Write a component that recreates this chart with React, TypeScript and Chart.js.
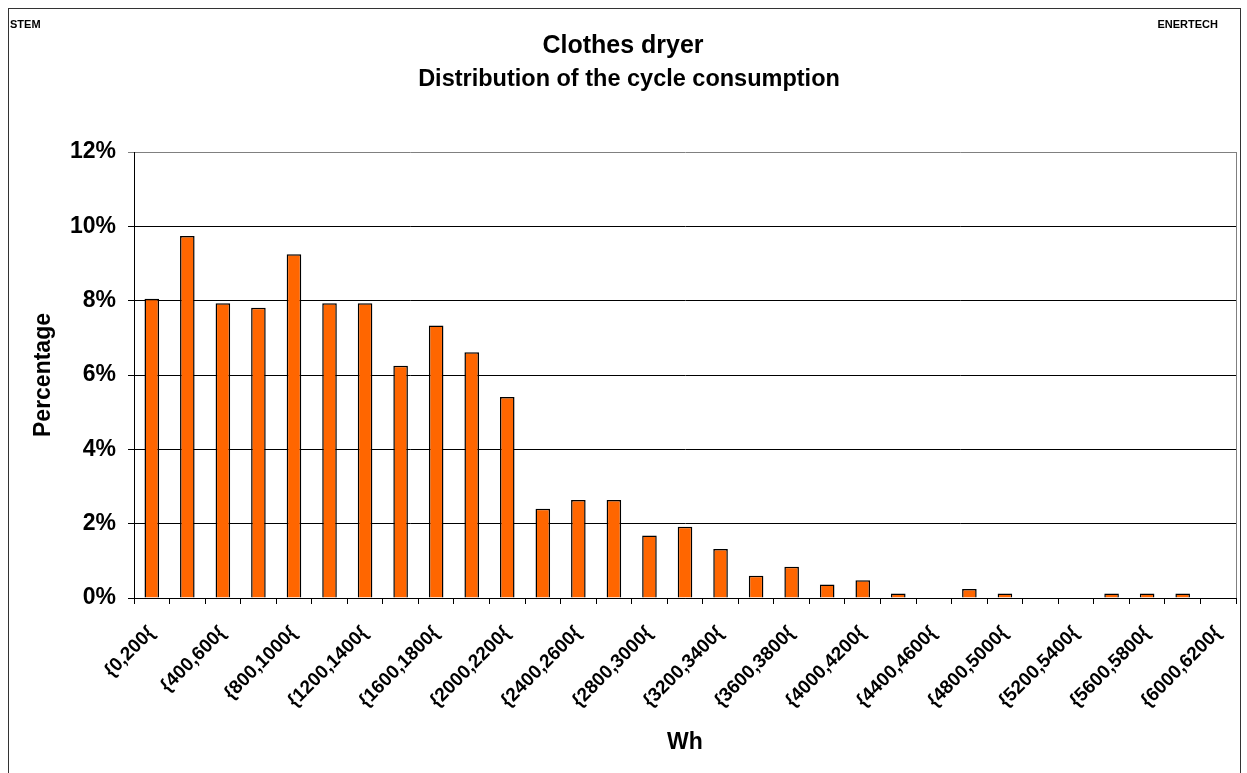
import React, { useEffect, useRef } from 'react';
import { Chart, registerables } from 'chart.js';

Chart.register(...registerables);

const categories = [
  '{0,200{', '{200,400{', '{400,600{', '{600,800{', '{800,1000{', '{1000,1200{',
  '{1200,1400{', '{1400,1600{', '{1600,1800{', '{1800,2000{', '{2000,2200{', '{2200,2400{',
  '{2400,2600{', '{2600,2800{', '{2800,3000{', '{3000,3200{', '{3200,3400{', '{3400,3600{',
  '{3600,3800{', '{3800,4000{', '{4000,4200{', '{4200,4400{', '{4400,4600{', '{4600,4800{',
  '{4800,5000{', '{5000,5200{', '{5200,5400{', '{5400,5600{', '{5600,5800{', '{5800,6000{',
  '{6000,6200{',
];

const percentages = [
  8.05, 9.74, 7.93, 7.81, 9.25, 7.93, 7.93, 6.25, 7.33, 6.61, 5.41,
  2.40, 2.64, 2.64, 1.68, 1.92, 1.32, 0.60, 0.84, 0.36, 0.48,
  0.12, 0, 0.24, 0.12, 0, 0, 0.12, 0.12, 0.12, 0,
];

const yTickValues = [0, 2, 4, 6, 8, 10, 12];

const titleText = 'Clothes dryer';
const subtitleText = 'Distribution of the cycle consumption';
const leftCornerText = 'STEM';
const rightCornerText = 'ENERTECH';
const xAxisTitle = 'Wh';
const yAxisTitle = 'Percentage';

const FONT = '"Liberation Sans", Arial, Helvetica, sans-serif';

const decorPlugin = {
  id: 'decor',
  afterDraw(chart: any) {
    const ctx = chart.ctx;
    const area = chart.chartArea;
    ctx.save();
    // outer frame
    ctx.strokeStyle = '#333333';
    ctx.lineWidth = 1;
    ctx.strokeRect(8.5, 8.5, 1232, 800);
    // plot area right border
    ctx.strokeStyle = '#808080';
    ctx.beginPath();
    ctx.moveTo(Math.round(area.right) + 0.5, area.top);
    ctx.lineTo(Math.round(area.right) + 0.5, area.bottom);
    ctx.stroke();
    // texts
    ctx.fillStyle = '#000';
    ctx.textBaseline = 'middle';
    ctx.textAlign = 'left';
    ctx.font = `bold 11px ${FONT}`;
    ctx.fillText(leftCornerText, 10, 25);
    ctx.textAlign = 'right';
    ctx.fillText(rightCornerText, 1218, 25);
    ctx.textAlign = 'center';
    ctx.font = `bold 25px ${FONT}`;
    ctx.fillText(titleText, 623, 46);
    ctx.font = `bold 23.5px ${FONT}`;
    ctx.fillText(subtitleText, 629, 80);
    ctx.restore();
  },
};

export default function App() {
  const canvasRef = useRef<HTMLCanvasElement | null>(null);

  useEffect(() => {
    const canvas = canvasRef.current;
    if (!canvas) return;
    const chart = new Chart(canvas, {
      type: 'bar',
      data: {
        labels: categories,
        datasets: [
          {
            data: percentages,
            backgroundColor: '#FF6600',
            borderColor: '#000000',
            borderWidth: 1.5,
            categoryPercentage: 1,
            barPercentage: 0.41,
          },
        ],
      },
      options: {
        responsive: false,
        animation: false,
        devicePixelRatio: 1,
        layout: { padding: { top: 152, right: 11, bottom: 10, left: 12 } },
        plugins: {
          legend: { display: false },
          tooltip: { enabled: false },
          title: { display: false },
        },
        scales: {
          x: {
            type: 'category',
            offset: true,
            afterFit: (s: any) => {
              s.height = 165;
              s.paddingLeft = 0;
              s.paddingRight = 0;
            },
            grid: {
              offset: true,
              drawOnChartArea: false,
              drawTicks: true,
              tickLength: 6,
              color: '#000000',
              lineWidth: 1,
            },
            border: { display: true, color: '#000000', width: 1 },
            ticks: {
              autoSkip: false,
              maxRotation: 45,
              minRotation: 45,
              padding: 18,
              color: '#000000',
              font: { family: FONT, size: 19, weight: 'bold' },
              callback: (_v: any, i: number) => (i % 2 === 0 ? categories[i] : ''),
            },
            title: {
              display: true,
              text: xAxisTitle,
              color: '#000000',
              font: { family: FONT, size: 23, weight: 'bold' },
              padding: { top: 0, bottom: 7 },
            },
          },
          y: {
            min: 0,
            max: 12,
            afterFit: (s: any) => {
              s.width = 122;
              s.paddingTop = 0;
              s.paddingBottom = 0;
            },
            afterBuildTicks: (s: any) => {
              s.ticks = yTickValues.map((v) => ({ value: v }));
            },
            grid: {
              drawTicks: true,
              tickLength: 6,
              lineWidth: 1,
              color: (c: any) => (c.tick && c.tick.value === 12 ? '#808080' : '#000000'),
            },
            border: { display: true, color: '#000000', width: 1 },
            ticks: {
              padding: 12,
              color: '#000000',
              font: { family: FONT, size: 23, weight: 'bold' },
              callback: (v: any) => `${v}%`,
            },
            title: {
              display: true,
              text: yAxisTitle,
              color: '#000000',
              font: { family: FONT, size: 23, weight: 'bold' },
              padding: { top: 18, bottom: 0 },
            },
          },
        },
      },
      plugins: [decorPlugin],
    });
    return () => chart.destroy();
  }, []);

  return (
    <div style={{ position: 'fixed', left: 0, top: 0, width: 1247, height: 773, background: '#fff' }}>
      <canvas ref={canvasRef} width={1247} height={773} style={{ width: 1247, height: 773, display: 'block' }} />
    </div>
  );
}
